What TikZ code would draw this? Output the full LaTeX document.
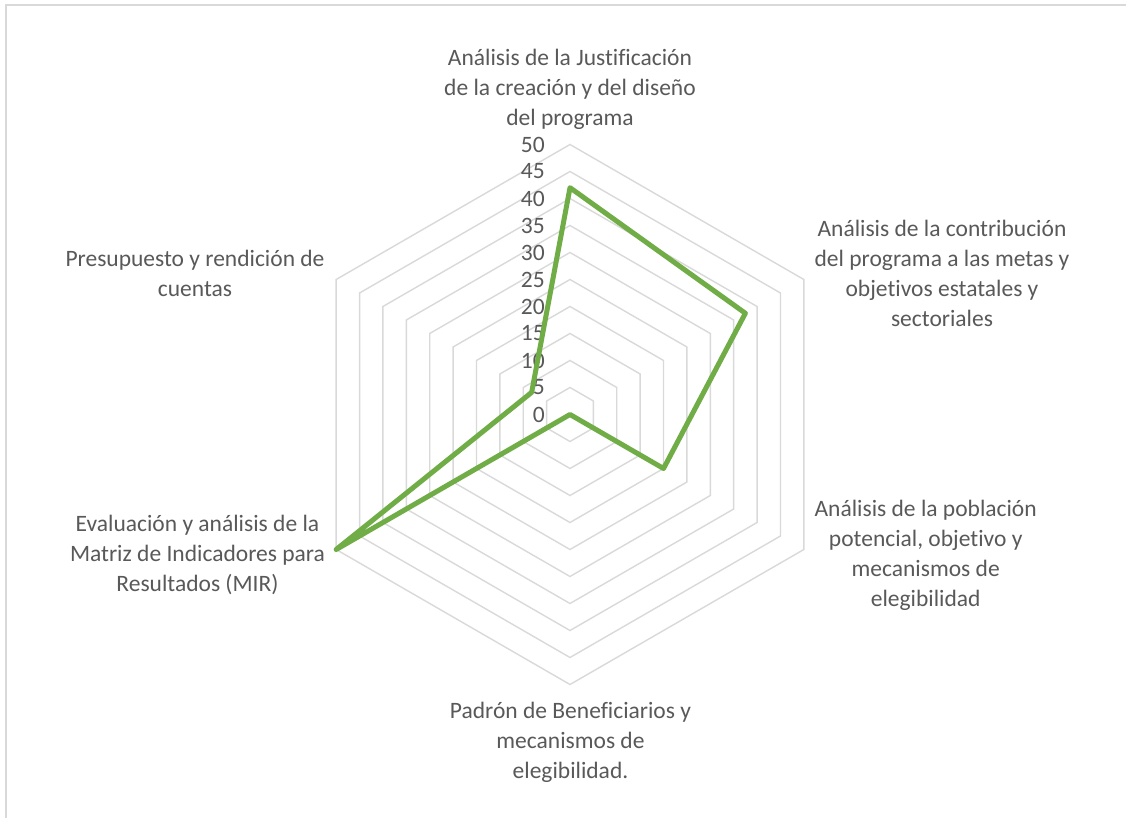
\documentclass[tikz,border=0pt]{standalone}
\usepackage{fontspec}
\setmainfont{Carlito}[Ligatures=NoCommon]
\usetikzlibrary{calc}
\definecolor{txt}{HTML}{595959}
\definecolor{gridc}{HTML}{D9D9D9}
\definecolor{serie}{HTML}{70AD47}
\begin{document}
\begin{tikzpicture}[x=1pt,y=1pt,
  ring/.style={draw=gridc,line width=1.4pt,line join=miter},
  cat/.style={text=txt,font=\fontsize{23.5}{30}\selectfont,align=center,inner sep=0pt,anchor=base},
  tick/.style={text=txt,font=\fontsize{23.5}{30}\selectfont,inner sep=0pt,anchor=east},
  serieline/.style={draw=serie,line width=5pt,line join=round}]
\useasboundingbox (0,0) rectangle (1126,-818);
\fill[white] (0,0) rectangle (1126,-818);
% frame (top and left edges)
\draw[gridc,line width=1.5pt] (6,-818) -- (6,-5) -- (1126,-5);
\coordinate (c) at (570,-414.5);
% rings
\foreach \k in {1,...,10}{
  \draw[ring] ($(c)+(90:27*\k)$) -- ($(c)+(30:27*\k)$) -- ($(c)+(-30:27*\k)$) -- ($(c)+(-90:27*\k)$) -- ($(c)+(-150:27*\k)$) -- ($(c)+(150:27*\k)$) -- cycle;
}
% tick labels
\foreach \k in {0,...,10}{
  \pgfmathtruncatemacro{\v}{5*\k}
  \node[tick] (t\k) at (545,-414.5+27*\k) {\v};
}
% data
\coordinate (p1) at ($(c)+(90:5.4*42)$);
\coordinate (p2) at ($(c)+(30:5.4*37.5)$);
\coordinate (p3) at ($(c)+(-30:5.4*20)$);
\coordinate (p4) at ($(c)+(-90:0)$);
\coordinate (p5) at ($(c)+(-150:5.4*50)$);
\coordinate (p6) at ($(c)+(150:5.4*8.2)$);
\draw[serieline] (p1) -- (p2) -- (p3) -- (p4) -- (p5) -- (p6) -- cycle;
% category labels (anchored at the baseline of the last line)
\node[cat] (l1) at (570,-126) {Análisis de la Justificación\\de la creación y del diseño\\del programa};
\node[cat] (l2) at (942,-326.7) {Análisis de la contribución\\del programa a las metas y\\objetivos estatales y\\sectoriales};
\node[cat] (l3) at (925.7,-606.7) {Análisis de la población\\potencial, objetivo y\\mecanismos de\\elegibilidad};
\node[cat] (l4) at (570.5,-778) {Padrón de Beneficiarios y\\mecanismos de\\elegibilidad.};
\node[cat] (l5) at (197.5,-591.7) {Evaluación y análisis de la\\Matriz de Indicadores para\\Resultados (MIR)};
\node[cat] (l6) at (195,-296) {Presupuesto y rendición de\\cuentas};
\end{tikzpicture}
\end{document}
